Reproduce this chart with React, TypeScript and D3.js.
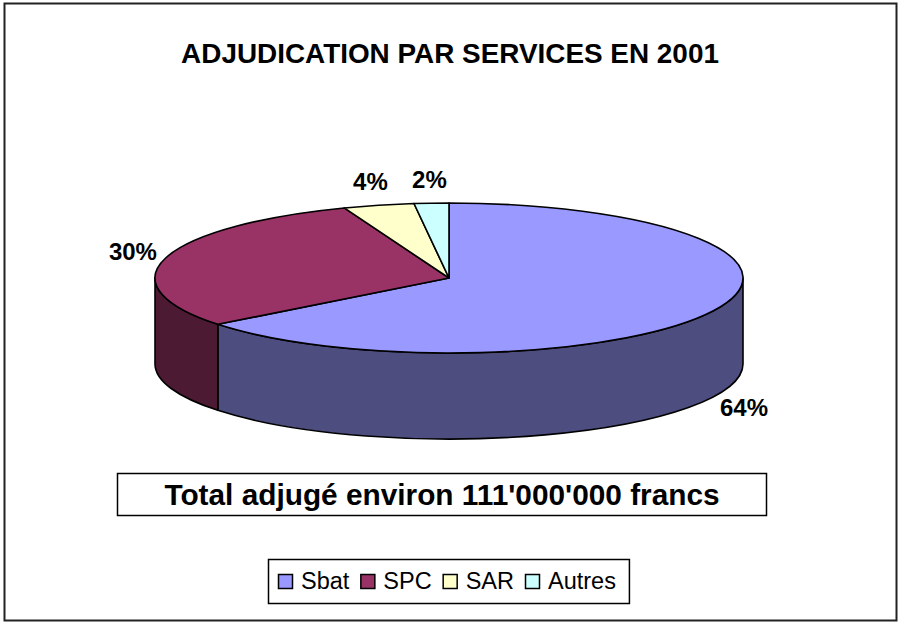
import * as d3 from "d3";
import { useEffect, useRef } from "react";

const categories = ["Sbat", "SPC", "SAR", "Autres"];
// shares in percent (labels show them rounded)
const values = [64.4, 29.8, 3.9, 1.9];
const topColors = ["#9999FF", "#993366", "#FFFFCC", "#CCFFFF"];
const sideColors = ["#4D4D80", "#4D1A33", "#808066", "#668080"];

const title = "ADJUDICATION PAR SERVICES EN 2001";
const totalText = "Total adjugé environ 111'000'000 francs";

const W = 899;
const H = 623;
const font = "Arial, 'Liberation Sans', sans-serif";

const drawChart = (node: SVGSVGElement) => {
	const svg = d3.select(node);
	svg.selectAll("*").remove();

	const cx = 449;
	const cy = 278;
	const rx = 294;
	const ry = 75;
	const depth = 86;
	const total = d3.sum(values);
	const pct = d3.format(".0%");

	const pt = (a: number, dy = 0) =>
		`${cx + rx * Math.sin(a)},${cy - ry * Math.cos(a) + dy}`;

	svg
		.append("rect")
		.attr("x", 4.5)
		.attr("y", 3.5)
		.attr("width", 892)
		.attr("height", 617)
		.attr("fill", "white")
		.attr("stroke", "#222")
		.attr("stroke-width", 2);

	svg
		.append("text")
		.attr("x", 450)
		.attr("y", 63)
		.attr("text-anchor", "middle")
		.style("font-family", font)
		.style("font-weight", "bold")
		.style("font-size", "27.9px")
		.text(title);

	const pie = d3
		.pie<number>()
		.sort(null)
		.value(d => d);
	const arcs = pie(values);

	const plot = svg.append("g");

	// sides (front half only)
	arcs.forEach((d, i) => {
		const a0 = Math.max(d.startAngle, Math.PI / 2);
		const a1 = Math.min(d.endAngle, (3 * Math.PI) / 2);
		if (a1 <= a0) return;
		plot
			.append("path")
			.attr(
				"d",
				`M${pt(a0)} A${rx},${ry} 0 0 1 ${pt(a1)} L${pt(a1, depth)} A${rx},${ry} 0 0 0 ${pt(a0, depth)} Z`
			)
			.attr("fill", sideColors[i])
			.attr("stroke", "black")
			.attr("stroke-width", 1.6)
			.attr("stroke-linejoin", "round");
	});

	// tops
	arcs.forEach((d, i) => {
		const large = d.endAngle - d.startAngle > Math.PI ? 1 : 0;
		plot
			.append("path")
			.attr(
				"d",
				`M${cx},${cy} L${pt(d.startAngle)} A${rx},${ry} 0 ${large} 1 ${pt(d.endAngle)} Z`
			)
			.attr("fill", topColors[i])
			.attr("stroke", "black")
			.attr("stroke-width", 1.6)
			.attr("stroke-linejoin", "round");
	});

	// percentage labels
	arcs.forEach(d => {
		const m = (d.startAngle + d.endAngle) / 2;
		const x = cx + (rx + 34) * Math.sin(m);
		const y = cy - (ry + 24) * Math.cos(m) + (Math.cos(m) < 0 ? depth : 0);
		plot
			.append("text")
			.attr("x", x)
			.attr("y", y)
			.attr("text-anchor", "middle")
			.attr("dominant-baseline", "central")
			.style("font-family", font)
			.style("font-weight", "bold")
			.style("font-size", "24px")
			.text(pct(d.value / total));
	});

	// total box
	svg
		.append("rect")
		.attr("x", 117.5)
		.attr("y", 473.5)
		.attr("width", 649)
		.attr("height", 42)
		.attr("fill", "white")
		.attr("stroke", "black")
		.attr("stroke-width", 1.5);

	svg
		.append("text")
		.attr("x", 442)
		.attr("y", 505)
		.attr("text-anchor", "middle")
		.style("font-family", font)
		.style("font-weight", "bold")
		.style("font-size", "29.8px")
		.text(totalText);

	// legend
	const legend = svg.append("g");
	const box = legend
		.append("rect")
		.attr("fill", "white")
		.attr("stroke", "black")
		.attr("stroke-width", 1.5);

	const sw = 15;
	let x = 10;
	categories.forEach((c, i) => {
		legend
			.append("rect")
			.attr("x", x + 0.5)
			.attr("y", 15.5)
			.attr("width", sw - 1)
			.attr("height", sw - 1)
			.attr("fill", topColors[i])
			.attr("stroke", "black")
			.attr("stroke-width", 1.5);
		x += sw + 8;
		const t = legend
			.append("text")
			.attr("x", x)
			.attr("y", 30)
			.style("font-family", font)
			.style("font-size", "23.5px")
			.text(c);
		x += (t.node() as SVGTextElement).getComputedTextLength();
		if (i < categories.length - 1) x += 11;
	});
	x += 13;
	box.attr("x", 0.5).attr("y", 0.5).attr("width", x).attr("height", 44);
	legend.attr("transform", `translate(${Math.round(448 - x / 2)}, 559)`);
};

export default function App() {
	const ref = useRef<SVGSVGElement>(null);

	useEffect(() => {
		if (ref.current) drawChart(ref.current);
	}, []);

	return (
		<svg
			ref={ref}
			width={W}
			height={H}
			style={{ position: "absolute", left: 0, top: 0, background: "white" }}
		/>
	);
}
